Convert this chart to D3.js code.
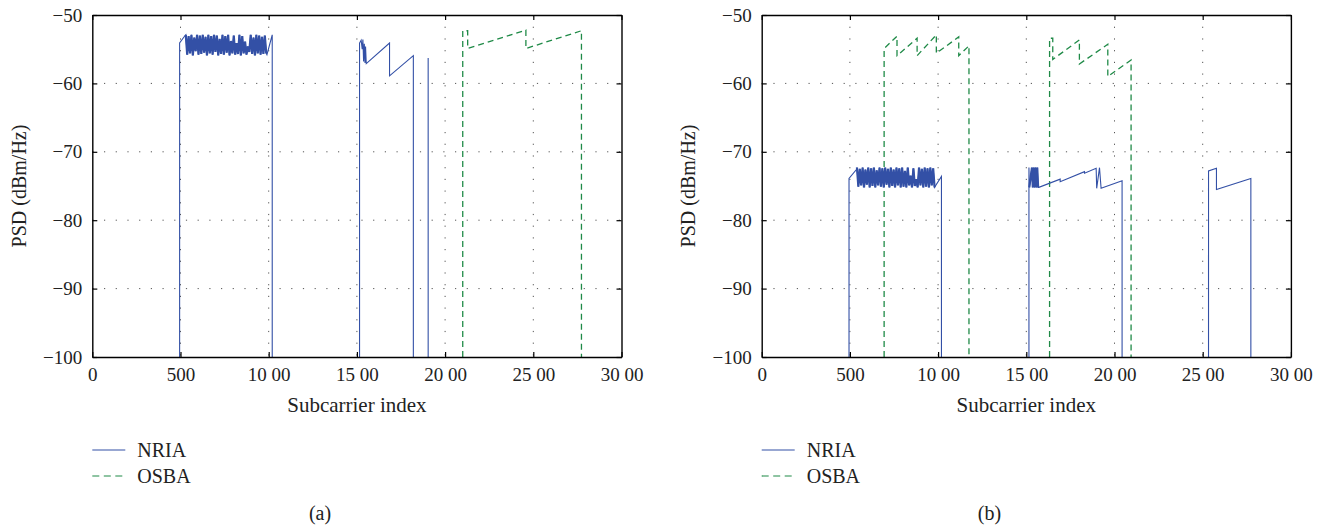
<!DOCTYPE html>
<html><head><meta charset="utf-8">
<script src="https://cdn.jsdelivr.net/npm/d3@7"></script>
<style>body{margin:0;background:#fff}svg{display:block}</style>
</head><body>
<svg id="c" width="1330" height="527"></svg>
<script>
// ---------- data ----------
const xTicks = [0, 500, 1000, 1500, 2000, 2500, 3000];
const xTickLabels = ["0", "500", "10 00", "15 00", "20 00", "25 00", "30 00"];
const yTicks = [-50, -60, -70, -80, -90, -100];
const yTickLabels = ["−50", "−60", "−70", "−80", "−90", "−100"];
const seriesNames = ["NRIA", "OSBA"];
const panelLabels = ["(a)", "(b)"];
const xTitle = "Subcarrier index";
const yTitle = "PSD (dBm/Hz)";

// panel (a) NRIA
const nriaA1Start = [[495, -100], [495, -54.1], [526, -53.0]];
const nriaA1Noise = [[530,-52.9],[538,-55.8],[546,-53.1],[554,-55.6],[562,-52.9],[570,-55.9],[578,-53.3],[586,-55.3],[594,-52.9],[602,-55.8],[610,-53.0],[618,-55.7],[626,-52.9],[634,-55.5],[642,-53.2],[650,-55.9],[658,-52.9],[666,-55.6],[674,-53.1],[682,-55.8],[690,-52.9],[698,-55.4],[706,-53.0],[714,-55.9],[722,-53.5],[730,-55.7],[738,-52.9],[746,-55.8],[754,-53.1],[762,-55.5],[770,-52.9],[778,-55.9],[786,-53.8],[794,-55.6],[802,-53.0],[810,-55.8],[818,-54.1],[826,-55.7],[834,-52.9],[842,-55.9],[850,-53.1],[858,-55.6],[866,-53.9],[874,-55.8],[882,-54.6],[890,-55.4],[898,-52.9],[906,-55.7],[914,-53.3],[922,-55.9],[930,-52.9],[938,-55.6],[946,-53.0],[954,-55.8],[962,-53.2],[970,-55.7],[978,-53.0],[986,-55.6]];
const nriaA1End = [[990, -55.8], [1020, -52.9], [1020, -100]];
const nriaA2 = [[1515,-100],[1515,-54.1],[1524,-53.7],[1530,-55.0],[1534,-53.6],[1538,-56.8],[1542,-54.2],[1546,-57.0],[1549,-54.6],[1553,-57.1],[1685,-54.1],[1685,-58.9],[1820,-55.95],[1820,-100]];
const nriaA3 = [[1904,-100],[1904,-56.3]];
// panel (a) OSBA
const osbaA1 = [[2100,-100],[2100,-52.3],[2128,-52.3],[2128,-54.9],[2458,-52.2],[2458,-54.9],[2773,-52.3],[2773,-100]];

// panel (b) NRIA
const nriaB1Start = [[495, -100], [495, -73.9], [537, -72.6]];
const nriaB1Noise = [[540,-72.3],[548,-75.1],[556,-72.5],[564,-74.9],[572,-72.3],[580,-75.2],[588,-72.6],[596,-74.8],[604,-72.3],[612,-75.2],[620,-72.4],[628,-75.0],[636,-72.3],[644,-75.2],[652,-72.7],[660,-74.9],[668,-72.3],[676,-75.1],[684,-72.4],[692,-75.2],[700,-72.3],[708,-74.8],[716,-72.5],[724,-75.2],[732,-72.3],[740,-75.0],[748,-72.6],[756,-75.2],[764,-72.3],[772,-74.9],[780,-72.4],[788,-75.2],[796,-72.3],[804,-75.1],[812,-72.8],[820,-75.2],[828,-72.3],[836,-74.9],[844,-73.5],[852,-75.2],[860,-72.4],[868,-75.0],[876,-74.0],[884,-75.2],[892,-72.3],[900,-74.9],[908,-72.5],[916,-75.2],[924,-72.3],[932,-75.1],[940,-72.4],[948,-75.2],[956,-72.3],[964,-74.9],[972,-72.4],[980,-75.2]];
const nriaB1End = [[1019, -73.6], [1019, -100]];
const nriaB2Noise = [[1517,-75.2],[1532,-72.3],[1537,-75.2],[1542,-72.3],[1547,-75.2],[1552,-72.3],[1557,-75.2],[1562,-72.3],[1567,-75.2]];
const nriaB2 = [[1515,-100],[1515,-72.3],[1517,-75.2],[1532,-72.3],[1537,-75.2],[1542,-72.3],[1547,-75.2],[1552,-72.3],[1557,-75.2],[1562,-72.3],[1567,-75.2],[1571,-75.2],[1692,-74.0],[1692,-74.37],[1830,-72.9],[1830,-73.14],[1896,-72.41],[1899,-75.34],[1915,-72.32],[1924,-75.34],[2043,-74.22],[2043,-100]];
const nriaB3 = [[2533,-100],[2533,-72.8],[2578,-72.4],[2578,-75.5],[2773,-73.9],[2773,-100]];
// panel (b) OSBA
const osbaB1 = [[694,-100],[694,-54.9],[767,-53.1],[767,-55.95],[881,-53.4],[881,-55.95],[990,-52.9],[990,-55.6],[1117,-53.2],[1117,-55.95],[1175,-54.5],[1175,-100]];
const osbaB2 = [[1632,-100],[1632,-53.4],[1650,-53.4],[1650,-56.5],[1801,-53.65],[1801,-57.16],[1962,-54.28],[1962,-59.0],[2094,-56.58],[2094,-100]];

// ---------- build ----------
const panels = [
  { ox: 0, nria: [nriaA1Start.concat(nriaA1Noise, nriaA1End), nriaA2, nriaA3], dense: [nriaA1Noise], osba: [osbaA1], label: panelLabels[0] },
  { ox: 669.4, nria: [nriaB1Start.concat(nriaB1Noise, nriaB1End), nriaB2, nriaB3], dense: [nriaB1Noise, nriaB2Noise], osba: [osbaB1, osbaB2], label: panelLabels[1] }
];

const FONT = "'Liberation Serif','Times New Roman',serif";
const BLUE = "#3350a6", GREEN = "#1f8a47";
const svg = d3.select("#c");
const L = 92.3, R = 621.5, T = 15, B = 357;

panels.forEach((p, pi) => {
  const g = svg.append("g").attr("transform", `translate(${p.ox},0)`);
  const x = d3.scaleLinear().domain([0, 3000]).range([L, R]);
  const y = d3.scaleLinear().domain([-100, -50]).range([B, T]);

  // grid
  g.append("g").selectAll("line").data(xTicks.slice(1, -1)).join("line")
    .attr("x1", d => x(d)).attr("x2", d => x(d)).attr("y1", T).attr("y2", B)
    .attr("stroke", "#555").attr("stroke-width", 1).attr("stroke-dasharray", "1.2,10.5");
  g.append("g").selectAll("line").data(yTicks.slice(1, -1)).join("line")
    .attr("y1", d => y(d)).attr("y2", d => y(d)).attr("x1", L).attr("x2", R)
    .attr("stroke", "#555").attr("stroke-width", 1).attr("stroke-dasharray", "1.2,10.5");

  const clipId = "clip" + pi;
  g.append("clipPath").attr("id", clipId).append("rect").attr("x", L).attr("y", T).attr("width", R - L).attr("height", B - T);
  const line = d3.line().x(d => x(d[0])).y(d => y(d[1]));
  const dg = g.append("g").attr("clip-path", `url(#${clipId})`);
  p.osba.forEach(s => dg.append("path").attr("d", line(s)).attr("fill", "none")
    .attr("stroke", GREEN).attr("stroke-width", 1.3).attr("stroke-dasharray", "6,4"));
  p.nria.forEach(s => dg.append("path").attr("d", line(s)).attr("fill", "none")
    .attr("stroke", BLUE).attr("stroke-width", 1.1).attr("stroke-linejoin", "miter"));
  p.dense.forEach(s => dg.append("path").attr("d", line(s)).attr("fill", "none")
    .attr("stroke", BLUE).attr("stroke-width", 2.2).attr("stroke-linejoin", "bevel"));

  // axes (inward ticks, all four sides)
  const ax = d3.axisBottom(x).tickValues(xTicks).tickSizeInner(-5).tickSizeOuter(0)
    .tickFormat((d, i) => xTickLabels[i]).tickPadding(10);
  const axB = g.append("g").attr("transform", `translate(0,${B})`).call(ax);
  const axT = g.append("g").attr("transform", `translate(0,${T})`).call(d3.axisTop(x).tickValues(xTicks).tickSizeInner(-5).tickSizeOuter(0).tickFormat(""));
  const ay = d3.axisLeft(y).tickValues(yTicks).tickSizeInner(-5).tickSizeOuter(0)
    .tickFormat((d, i) => yTickLabels[i]).tickPadding(10);
  const axL = g.append("g").attr("transform", `translate(${L},0)`).call(ay);
  const axR = g.append("g").attr("transform", `translate(${R},0)`).call(d3.axisRight(y).tickValues(yTicks).tickSizeInner(-5).tickSizeOuter(0).tickFormat(""));
  [axB, axT, axL, axR].forEach(a => {
    a.select(".domain").attr("stroke", "#000").attr("stroke-width", 1.4);
    a.selectAll(".tick line").attr("stroke", "#000").attr("stroke-width", 1.2);
    a.selectAll("text").attr("font-family", FONT).attr("font-size", 19).attr("fill", "#222");
  });
  axB.selectAll("text").attr("dy", "0.72em");

  // titles
  g.append("text").attr("x", (L + R) / 2).attr("y", 412).attr("text-anchor", "middle")
    .attr("font-family", FONT).attr("font-size", 21).attr("fill", "#222").text(xTitle);
  g.append("text").attr("transform", `translate(26,${(T + B) / 2}) rotate(-90)`).attr("text-anchor", "middle")
    .attr("font-family", FONT).attr("font-size", 20).attr("fill", "#222").text(yTitle);

  // legend
  const lg = g.append("g");
  [0, 1].forEach(i => {
    const yy = 450 + i * 26;
    lg.append("line").attr("x1", L).attr("x2", L + 33).attr("y1", yy).attr("y2", yy)
      .attr("stroke", i === 0 ? BLUE : GREEN).attr("stroke-width", 1.2)
      .attr("stroke-dasharray", i === 0 ? null : "7,4.5");
    lg.append("text").attr("x", L + 45).attr("y", yy + 7).attr("font-family", FONT)
      .attr("font-size", 20).attr("fill", "#222").text(seriesNames[i]);
  });
  g.append("text").attr("x", 320).attr("y", 520).attr("text-anchor", "middle")
    .attr("font-family", FONT).attr("font-size", 20).attr("fill", "#222").text(p.label);
});
</script>
</body></html>
